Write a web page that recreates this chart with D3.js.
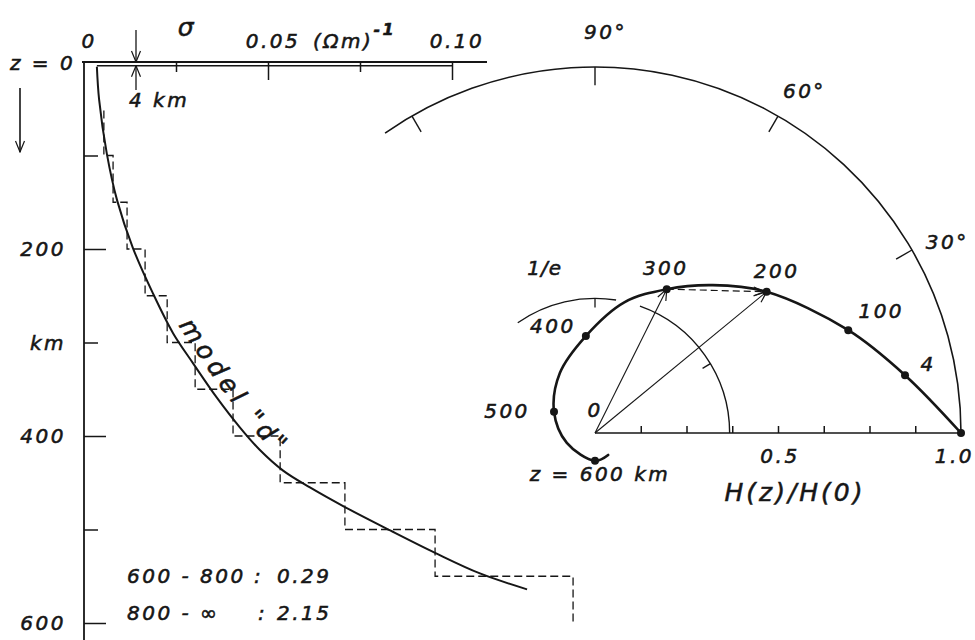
<!DOCTYPE html>
<html>
<head>
<meta charset="utf-8">
<script src="https://cdn.jsdelivr.net/npm/d3@7"></script>
<style>
  html, body { margin: 0; padding: 0; background: #ffffff; }
  svg { display: block; }
  text { font-family: "DejaVu Sans", sans-serif; font-style: italic; fill: #161616;
         stroke: #161616; stroke-width: 0.55; }
</style>
</head>
<body>
<svg id="chart" width="975" height="640"></svg>
<script>
// Conductivity-depth profile (left) and hodograph of the normalised field H(z)/H(0) (right)

// ---- depth profile: axes ----
const depthMajor = [200, 400, 600];
const depthMinor = [100, 300, 500];
const depthLabelValues = [200, 300, 400, 600];
const depthLabelText = ["200", "km", "400", "600"];
const sigmaMajor = [0.05, 0.10];
const sigmaMinor = [0.025, 0.075];
const sigmaLabelValues = [0, 0.05, 0.10];
const sigmaLabelText = ["0", "0.05", "0.10"];

// ---- smooth model "d": depth (km) and conductivity (S/m) ----
const modelDepth = [5, 40, 98, 148, 199, 248, 290, 322, 359, 391, 415, 437, 455, 476, 501, 525, 547, 564];
const modelSigma = [0.0035, 0.0041, 0.0062, 0.0090, 0.0133, 0.0188, 0.0242, 0.0296, 0.0361, 0.0424,
                    0.0478, 0.0541, 0.0614, 0.0709, 0.0832, 0.0954, 0.1076, 0.1204];

// ---- layered approximation (dashed) ----
const layerTop    = [52, 100, 150, 200, 250, 300, 350, 400, 450, 500, 550];
const layerBottom = [100, 150, 200, 250, 300, 350, 400, 450, 500, 550, 600];
const layerSigma  = [0.0054, 0.0079, 0.0117, 0.0166, 0.0226, 0.0302, 0.0405, 0.0533, 0.0709, 0.0954, 0.1329];
const surfaceLayer = 4; // km
const deepRanges = ["600 - 800", "800 - ∞"];
const deepSigma  = ["0.29", "2.15"];

// ---- hodograph: marked depths and values of H(z)/H(0) ----
const hodoDepth = [0, 4, 100, 200, 300, 400, 500, 600];
const hodoRe = [1.000, 0.847, 0.692, 0.469, 0.196, -0.025, -0.112, 0.000];
const hodoIm = [0.000, 0.158, 0.281, 0.386, 0.393, 0.265, 0.058, -0.076];
const hodoLabel = ["", "4", "100", "200", "300", "400", "500", "z = 600 km"];
// traced curve, including points between the markers
const traceRe = [1.000, 0.847, 0.692, 0.469, 0.322, 0.196, 0.080, -0.025, -0.096, -0.112, -0.077, 0.000, 0.036];
const traceIm = [0.000, 0.158, 0.281, 0.386, 0.404, 0.393, 0.357, 0.265, 0.164, 0.058, -0.027, -0.076, -0.060];
const phaseTicks = [30, 60, 90, 120];
const phaseLabels = [30, 60, 90];
const ampTicks = [0.125, 0.25, 0.375, 0.5, 0.625, 0.75, 0.875];
const ampLabels = [0.5, 1.0];
const ampLabelText = ["0.5", "1.0"];
const invE = 1 / Math.E;

const ink = "#161616";
const svg = d3.select("#chart");

// open arrowhead
svg.append("defs").append("marker")
  .attr("id", "head").attr("viewBox", "-1 -6 13 12")
  .attr("refX", 11).attr("refY", 0)
  .attr("markerWidth", 13).attr("markerHeight", 12)
  .attr("markerUnits", "userSpaceOnUse").attr("orient", "auto")
  .append("path").attr("d", "M0,-4.5L11,0L0,4.5")
  .attr("fill", "none").attr("stroke", ink).attr("stroke-width", 1.2);

// =================== LEFT: sigma(z) ===================
const x = d3.scaleLinear().domain([0, 0.1]).range([84, 452]);
const y = d3.scaleLinear().domain([0, 600]).range([62, 623]);
const L = svg.append("g").attr("stroke", ink).attr("fill", "none");

// surface line and depth axis
L.append("line").attr("x1", x(0) - 2).attr("x2", x(0.1) + 35)
  .attr("y1", y(0)).attr("y2", y(0)).attr("stroke-width", 1.8);
L.append("line").attr("x1", x(0)).attr("x2", x(0))
  .attr("y1", y(0)).attr("y2", 640).attr("stroke-width", 1.8);
// base of the 4 km surface layer
L.append("line").attr("x1", x(modelSigma[0])).attr("x2", x(0.1))
  .attr("y1", y(surfaceLayer)).attr("y2", y(surfaceLayer)).attr("stroke-width", 1.6);

function styleAxis(g) {
  g.select(".domain").remove();
  g.selectAll(".tick line").attr("stroke", ink).attr("stroke-width", 1.5);
  g.selectAll(".tick text").remove();
}
L.append("g").attr("transform", `translate(0,${y(0)})`)
  .call(d3.axisTop(x).tickValues(sigmaMinor).tickSize(-10)).call(styleAxis);
L.append("g").attr("transform", `translate(0,${y(0)})`)
  .call(d3.axisTop(x).tickValues(sigmaMajor).tickSize(-18)).call(styleAxis);
L.append("g").attr("transform", `translate(${x(0)},0)`)
  .call(d3.axisLeft(y).tickValues(depthMinor).tickSize(-14)).call(styleAxis);
L.append("g").attr("transform", `translate(${x(0)},0)`)
  .call(d3.axisLeft(y).tickValues(depthMajor).tickSize(-22)).call(styleAxis);

const T = svg.append("g").attr("font-size", 20).attr("letter-spacing", 2.5);

// sigma labels
T.selectAll(".sl").data(sigmaLabelValues).join("text")
  .attr("x", d => x(d) + 5).attr("y", y(0) - 14)
  .attr("text-anchor", "middle").text((d, i) => sigmaLabelText[i]);
const unit = T.append("text").attr("x", x(0.05) + 45).attr("y", y(0) - 14);
unit.append("tspan").text("(Ωm)");
unit.append("tspan").attr("dy", -13).attr("font-size", 16).attr("font-weight", "bold").text("-1");
T.append("text").attr("x", 187).attr("y", 36).attr("text-anchor", "middle")
  .attr("font-size", 25).text("σ");

// depth labels
T.selectAll(".dl").data(depthLabelValues).join("text")
  .attr("x", x(0) - 18).attr("y", d => y(d)).attr("dy", "0.36em")
  .attr("text-anchor", "end").text((d, i) => depthLabelText[i]);

T.append("text").attr("x", 10).attr("y", 70).text("z = 0");
// downward pointer under z = 0
L.append("line").attr("x1", 20).attr("x2", 20).attr("y1", 88).attr("y2", 152)
  .attr("stroke-width", 1.6).attr("marker-end", "url(#head)");
// 4 km surface layer annotation
L.append("line").attr("x1", 136).attr("x2", 136).attr("y1", 30).attr("y2", y(0))
  .attr("stroke-width", 1.3).attr("marker-end", "url(#head)");
L.append("line").attr("x1", 136).attr("x2", 136).attr("y1", 90).attr("y2", y(surfaceLayer))
  .attr("stroke-width", 1.3).attr("marker-end", "url(#head)");
T.append("text").attr("x", 129).attr("y", 107).text("4 km");

// layered model (dashed steps)
const stepPts = [];
layerSigma.forEach((s, i) => { stepPts.push([s, layerTop[i]], [s, layerBottom[i]]); });
L.append("path")
  .attr("d", d3.line().x(d => x(d[0])).y(d => y(d[1]))(stepPts))
  .attr("stroke-width", 1.3).attr("stroke-dasharray", "8,4");

// smooth model "d"
const modelLine = d3.line().x(d => x(d[1])).y(d => y(d[0])).curve(d3.curveCatmullRom.alpha(0.5));
const modelPts = modelDepth.map((z, i) => [z, modelSigma[i]]);
const modelPath = L.append("path").attr("id", "modelCurve")
  .attr("d", modelLine(modelPts)).attr("stroke-width", 2);

// label following the curve
const mp = modelPath.node();
const total = mp.getTotalLength();
let startLen = 0;
for (let s = 0; s < total; s += 1) {
  if (mp.getPointAtLength(s).y >= y(286)) { startLen = s; break; }
}
T.append("text").attr("font-size", 25).attr("font-style", "normal").attr("letter-spacing", 5)
  .attr("dy", -9)
  .append("textPath").attr("href", "#modelCurve").attr("startOffset", startLen)
  .text("model \"d\"");

// deeper layers
deepRanges.forEach((r, i) => {
  const yy = 583 + i * 37;
  T.append("text").attr("x", 127).attr("y", yy).text(r);
  T.append("text").attr("x", 254 + i * 4).attr("y", yy).text(":");
  T.append("text").attr("x", 277).attr("y", yy).text(deepSigma[i]);
});

// =================== RIGHT: hodograph ===================
const px = d3.scaleLinear().domain([0, 1]).range([595, 961]);
const py = d3.scaleLinear().domain([0, 1]).range([433, 67]);
const R = px(1) - px(0);
const rad = a => a * Math.PI / 180;
const polar = (r, a) => [px(r * Math.cos(rad(a))), py(r * Math.sin(rad(a)))];
const P = svg.append("g").attr("stroke", ink).attr("fill", "none");

function arcPath(r, a0, a1) {
  const p = d3.path();
  const [sx, sy] = polar(r, a0);
  p.moveTo(sx, sy);
  p.arc(px(0), py(0), r * R, -rad(a0), -rad(a1), true);
  return p.toString();
}

// unit circle with phase ticks
P.append("path").attr("d", arcPath(1, 0, 125)).attr("stroke-width", 1.6);
phaseTicks.forEach(a => {
  const [x1, y1] = polar(1, a), [x2, y2] = polar(0.95, a);
  P.append("line").attr("x1", x1).attr("y1", y1).attr("x2", x2).attr("y2", y2).attr("stroke-width", 1.4);
});
T.selectAll(".pl").data(phaseLabels).join("text")
  .attr("x", d => polar(1.095, d - 1.5)[0]).attr("y", d => polar(1.095, d - 1.5)[1])
  .attr("dy", "0.35em").attr("text-anchor", "middle").text(d => d + "°");

// 1/e circle pieces
P.append("path").attr("d", arcPath(invE, 0, 70.5)).attr("stroke-width", 1.4);
P.append("path").attr("d", arcPath(invE, 81, 125)).attr("stroke-width", 1.4);
[[invE, 31], [invE, 90]].forEach(([r, a]) => {
  const [x1, y1] = polar(r, a), [x2, y2] = polar(r - 0.025, a);
  P.append("line").attr("x1", x1).attr("y1", y1).attr("x2", x2).attr("y2", y2).attr("stroke-width", 1.3);
});
T.append("text").attr("x", polar(0.47, 107)[0]).attr("y", polar(0.47, 107)[1])
  .attr("dy", "0.35em").attr("text-anchor", "middle").attr("letter-spacing", 1).text("1/e");

// amplitude axis
P.append("line").attr("x1", px(0)).attr("x2", px(1)).attr("y1", py(0)).attr("y2", py(0)).attr("stroke-width", 1.6);
P.append("g").attr("transform", `translate(0,${py(0)})`)
  .call(d3.axisTop(px).tickValues(ampTicks).tickSize(7)).call(styleAxis);
T.selectAll(".al").data(ampLabels).join("text")
  .attr("x", d => d < 1 ? px(d) + 2 : px(d) + 13).attr("y", py(0) + 30)
  .attr("text-anchor", d => d < 1 ? "middle" : "end").text((d, i) => ampLabelText[i]);
T.append("text").attr("x", px(0)).attr("y", py(0) - 23).attr("dy", "0.35em")
  .attr("text-anchor", "middle").text("0");
T.append("text").attr("x", 795).attr("y", 501).attr("text-anchor", "middle")
  .attr("font-size", 25).attr("letter-spacing", 3).text("H(z)/H(0)");

// vectors to the 300 km and 200 km points
const i300 = hodoDepth.indexOf(300), i200 = hodoDepth.indexOf(200);
[i300, i200].forEach(i => {
  P.append("line").attr("x1", px(0)).attr("y1", py(0))
    .attr("x2", px(hodoRe[i])).attr("y2", py(hodoIm[i]))
    .attr("stroke-width", 1.1).attr("marker-end", "url(#head)");
});
P.append("line").attr("x1", px(hodoRe[i300])).attr("y1", py(hodoIm[i300]))
  .attr("x2", px(hodoRe[i200]) - 2).attr("y2", py(hodoIm[i200]))
  .attr("stroke-width", 1.2).attr("stroke-dasharray", "7,4").attr("marker-end", "url(#head)");

// hodograph curve
const tracePts = traceRe.map((r, i) => [r, traceIm[i]]);
P.append("path")
  .attr("d", d3.line().x(d => px(d[0])).y(d => py(d[1])).curve(d3.curveCatmullRom.alpha(0.5))(tracePts))
  .attr("stroke-width", 2.6).attr("stroke-linecap", "round");
svg.append("g").selectAll("circle").data(hodoDepth).join("circle")
  .attr("cx", (d, i) => px(hodoRe[i])).attr("cy", (d, i) => py(hodoIm[i]))
  .attr("r", 4).attr("fill", ink);

// depth labels on the hodograph
const labelOffset = [[0, 0], [23, -11], [33, -19], [10, -21], [-1, -21], [-33, -10], [-47, -1], [5, 13]];
T.selectAll(".hl").data(hodoDepth).join("text")
  .attr("x", (d, i) => px(hodoRe[i]) + labelOffset[i][0])
  .attr("y", (d, i) => py(hodoIm[i]) + labelOffset[i][1])
  .attr("dy", "0.35em").attr("text-anchor", "middle")
  .text((d, i) => hodoLabel[i]);
</script>
</body>
</html>
